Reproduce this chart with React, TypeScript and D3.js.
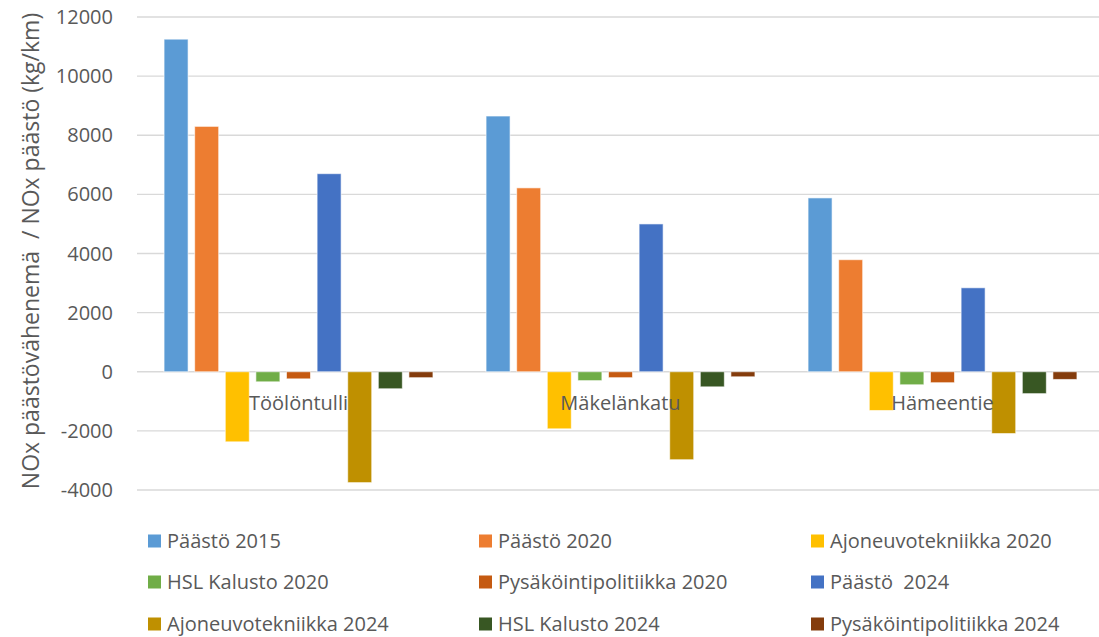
import * as d3 from "d3";

const categories = ["Töölöntulli", "Mäkelänkatu", "Hämeentie"];
const seriesNames = [
  "Päästö 2015",
  "Päästö 2020",
  "Ajoneuvotekniikka 2020",
  "HSL Kalusto 2020",
  "Pysäköintipolitiikka 2020",
  "Päästö  2024",
  "Ajoneuvotekniikka 2024",
  "HSL Kalusto 2024",
  "Pysäköintipolitiikka 2024",
];
const seriesColors = [
  "#5B9BD5",
  "#ED7D31",
  "#FFC000",
  "#70AD47",
  "#C55A11",
  "#4472C4",
  "#BF9000",
  "#385723",
  "#843C0C",
];
// values per series, in category order
const paasto2015 = [11250, 8650, 5880];
const paasto2020 = [8300, 6220, 3790];
const ajoneuvo2020 = [-2370, -1930, -1310];
const hsl2020 = [-340, -300, -440];
const pysakointi2020 = [-240, -200, -370];
const paasto2024 = [6700, 5000, 2840];
const ajoneuvo2024 = [-3750, -2975, -2090];
const hsl2024 = [-575, -510, -740];
const pysakointi2024 = [-200, -170, -260];
const seriesValues = [
  paasto2015,
  paasto2020,
  ajoneuvo2020,
  hsl2020,
  pysakointi2020,
  paasto2024,
  ajoneuvo2024,
  hsl2024,
  pysakointi2024,
];
const yTicks = [-4000, -2000, 0, 2000, 4000, 6000, 8000, 10000, 12000];

const FONT = "'Open Sans', sans-serif";
const TEXT = "#595959";

export default function App() {
  const W = 1099;
  const H = 637;
  const y = d3.scaleLinear().domain([-4000, 12000]).range([490, 17]);
  const x0 = d3.scaleBand<string>().domain(categories).range([137.5, 1103.5]);
  const x1 = d3
    .scaleBand<string>()
    .domain(seriesNames)
    .range([0, x0.bandwidth()])
    .paddingInner(0.216)
    .paddingOuter(0.868);

  return (
    <svg
      width={W}
      height={H}
      style={{ position: "absolute", left: 0, top: 0, background: "#fff" }}
      fontFamily={FONT}
    >
      {yTicks.map((t) => (
        <g key={t}>
          <line x1={137} x2={1099} y1={y(t)} y2={y(t)} stroke="#D9D9D9" strokeWidth={1.3} />
          <text x={113} y={y(t)} dy="0.35em" textAnchor="end" fontSize={20} fill={TEXT}>
            {t}
          </text>
        </g>
      ))}
      {categories.map((c, ci) => (
        <g key={c} transform={`translate(${x0(c)},0)`}>
          {seriesNames.map((s, si) => {
            const v = seriesValues[si][ci];
            return (
              <rect
                key={s}
                x={x1(s)}
                y={Math.min(y(v), y(0))}
                width={x1.bandwidth()}
                height={Math.abs(y(v) - y(0))}
                fill={seriesColors[si]}
                stroke="#fff"
                strokeOpacity={0.6}
                strokeWidth={1}
              />
            );
          })}
        </g>
      ))}
      {categories.map((c) => (
        <text
          key={c}
          x={(x0(c) as number) + x0.bandwidth() / 2}
          y={410}
          textAnchor="middle"
          fontSize={20}
          fill={TEXT}
        >
          {c}
        </text>
      ))}
      <text
        transform={`translate(39,${251}) rotate(-90)`}
        textAnchor="middle"
        fontSize={23}
        fill={TEXT}
        xmlSpace="preserve"
      >
        NOx päästövähenemä  / NOx päästö (kg/km)
      </text>
      {seriesNames.map((s, i) => {
        const col = i % 3;
        const row = Math.floor(i / 3);
        const lx = [148, 479, 811][col];
        const ly = [541, 582, 624][row];
        return (
          <g key={s}>
            <rect x={lx} y={ly - 6.5} width={13} height={13} fill={seriesColors[i]} />
            <text x={lx + 19} y={ly} dy="0.36em" fontSize={20} fill={TEXT} xmlSpace="preserve">
              {s}
            </text>
          </g>
        );
      })}
    </svg>
  );
}
